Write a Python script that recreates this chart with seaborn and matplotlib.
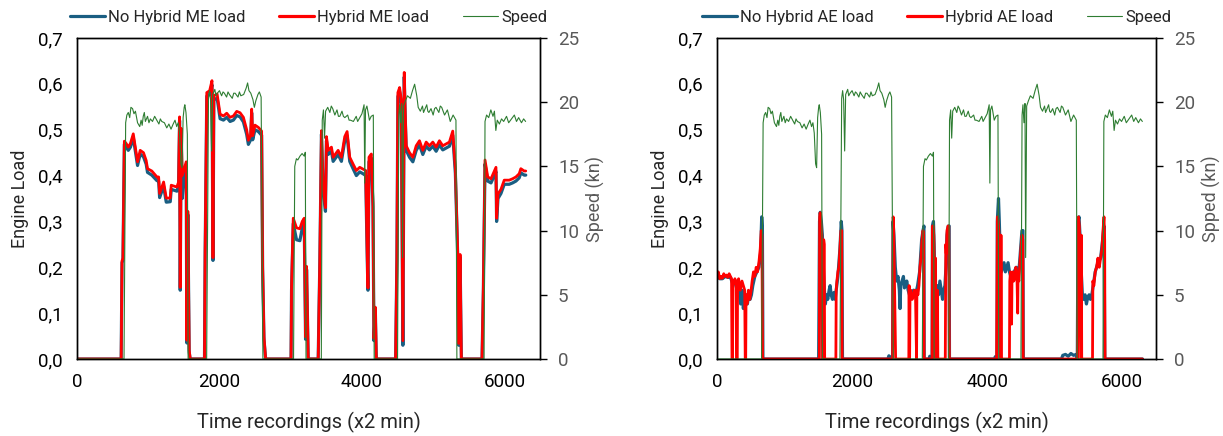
import matplotlib
matplotlib.use("Agg")
import matplotlib.pyplot as plt
from matplotlib.lines import Line2D
from matplotlib.ticker import FuncFormatter
import seaborn as sns
import numpy as np

# ---------------- DATA ----------------
# Ship speed (kn), shared by both panels
speed_t = [0, 660, 683, 700, 720, 740, 757, 780, 800, 820, 850, 881, 900, 915, 930, 945, 960, 990, 1010, 1030,
           1060, 1090, 1120, 1150, 1170, 1190, 1227, 1260, 1290, 1320, 1350, 1376, 1400, 1420, 1440, 1460,
           1475, 1490, 1505, 1514, 1530, 1549, 1560,
           1820, 1846, 1860, 1875, 1890, 1905, 1935, 1950, 1970, 2000, 2030, 2050, 2069, 2100, 2120, 2140,
           2180, 2200, 2220, 2260, 2280, 2300, 2340, 2375, 2395, 2414, 2440, 2470, 2490, 2510, 2540, 2560,
           2585, 2610,
           3040, 3057, 3080, 3100, 3130, 3160, 3190, 3205, 3215,
           3430, 3443, 3460, 3475, 3490, 3520, 3550, 3570, 3590, 3620, 3650, 3670, 3690, 3720, 3740, 3760,
           3800, 3820, 3840, 3880, 3920, 3940, 3960, 4000, 4030, 4040, 4050, 4070, 4090, 4105, 4130, 4160,
           4172,
           4500, 4517, 4530, 4545, 4560, 4570, 4585, 4610, 4640, 4680, 4710, 4740, 4770, 4790, 4820, 4850,
           4865, 4880, 4910, 4925, 4940, 4970, 5000, 5020, 5040, 5080, 5100, 5120, 5160, 5200, 5240, 5280,
           5320, 5333,
           5715, 5728, 5750, 5780, 5810, 5840, 5860, 5880, 5900, 5930, 5960, 5990, 6030, 6060, 6100, 6140,
           6170, 6200, 6240, 6270, 6298]
speed_v = [0, 0, 18.4, 19.0, 19.2, 18.8, 19.6, 19.5, 19.1, 19.3, 18.4, 18.1, 18.6, 18.2, 18.9, 19.2, 18.5, 18.9, 18.4, 18.7,
           18.5, 18.9, 18.6, 18.3, 18.7, 18.5, 18.4, 18.0, 18.3, 17.9, 18.3, 18.6, 18.1, 18.4, 17.6, 15.2,
           14.9, 18.8, 19.6, 19.8, 19.2, 17.5, 0,
           0, 20.3, 20.9, 20.2, 16.2, 20.6, 21.0, 20.5, 20.7, 20.9, 20.5, 20.8, 20.7, 20.4, 20.8, 20.6,
           20.3, 20.7, 20.7, 20.4, 20.8, 20.5, 20.6, 21.1, 21.5, 20.9, 20.7, 20.2, 19.6, 20.1, 20.6, 20.8,
           20.4, 0,
           0, 15.0, 15.6, 15.5, 15.8, 16.0, 15.8, 16.1, 0,
           0, 18.6, 19.4, 17.2, 19.3, 19.6, 19.2, 19.7, 19.5, 19.0, 19.4, 18.9, 18.9, 19.3, 18.9, 18.8,
           19.0, 18.6, 18.6, 18.5, 18.9, 18.5, 18.7, 19.1, 19.8, 13.7, 19.4, 19.7, 19.1, 18.6, 18.9, 19.0,
           0,
           0, 19.0, 19.8, 18.4, 19.9, 7.9, 19.7, 20.1, 20.5, 20.3, 20.9, 21.4, 20.5, 19.6, 19.3, 19.7,
           19.2, 19.4, 19.8, 19.3, 19.2, 19.5, 19.0, 19.5, 19.6, 19.2, 19.7, 19.6, 19.0, 19.4, 18.5, 19.0,
           18.6, 0,
           0, 18.5, 19.0, 18.8, 19.4, 18.9, 19.3, 17.8, 18.6, 18.3, 18.7, 18.5, 18.9, 18.4, 18.7, 19.0,
           18.5, 18.8, 18.4, 18.7, 18.5]

# Main engine load, hybrid (red)
me_hyb_t = [0, 620, 632, 645, 665, 690, 720, 750, 790, 820, 850, 887, 933, 971, 990, 1050, 1122, 1146,
            1160, 1216, 1253, 1309, 1323, 1402, 1426, 1440, 1449, 1463, 1477, 1505, 1533, 1542, 1556,
            1575, 1589,
            1790, 1799, 1822, 1862, 1895, 1909, 1921, 1967, 2009, 2056, 2102, 2149, 2196, 2242, 2289,
            2336, 2382, 2406, 2438, 2452, 2466, 2499, 2546, 2592, 2606, 2625, 2648,
            3005, 3012, 3036, 3082, 3129, 3162, 3190, 3209, 3223, 3246,
            3386, 3409, 3432, 3455, 3488, 3502, 3526, 3572, 3596, 3666, 3712, 3759, 3792, 3829, 3876,
            3922, 3969, 4016, 4053, 4076, 4085, 4099, 4132, 4155, 4169, 4188, 4202,
            4473, 4491, 4505, 4529, 4552, 4575, 4594, 4608, 4622, 4668, 4715, 4762, 4808, 4855, 4902,
            4948, 4995, 5042, 5088, 5135, 5182, 5228, 5275, 5312, 5345, 5359, 5378, 5396,
            5686, 5705, 5728, 5766, 5812, 5859, 5882, 5891, 5910, 5952, 5998, 6068, 6115, 6162, 6208,
            6231, 6278, 6300]
me_hyb_v = [0, 0, 0.214, 0.22, 0.475, 0.47, 0.462, 0.47, 0.491, 0.46, 0.43, 0.455, 0.45, 0.433, 0.415, 0.41, 0.397, 0.397,
            0.361, 0.386, 0.351, 0.351, 0.379, 0.375, 0.386, 0.528, 0.156, 0.503, 0.40, 0.415, 0.43, 0.041, 0.322,
            0.02, 0,
            0, 0.235, 0.581, 0.585, 0.607, 0.221, 0.574, 0.578, 0.534, 0.53, 0.536, 0.527, 0.53, 0.54, 0.537,
            0.527, 0.50, 0.477, 0.487, 0.545, 0.487, 0.51, 0.505, 0.497, 0.20, 0.048, 0,
            0, 0.156, 0.307, 0.286, 0.284, 0.30, 0.307, 0.048, 0.202, 0,
            0, 0.214, 0.498, 0.38, 0.33, 0.485, 0.455, 0.462, 0.44, 0.455, 0.44, 0.485, 0.496, 0.44, 0.425,
            0.411, 0.418, 0.414, 0.411, 0.214, 0.155, 0.44, 0.447, 0.34, 0.045, 0.113, 0,
            0, 0.221, 0.581, 0.592, 0.566, 0.04, 0.625, 0.536, 0.465, 0.45, 0.44, 0.465, 0.476, 0.455, 0.473,
            0.465, 0.473, 0.462, 0.476, 0.465, 0.469, 0.473, 0.497, 0.415, 0.228, 0.034, 0.228, 0,
            0, 0.156, 0.434, 0.397, 0.393, 0.41, 0.418, 0.307, 0.36, 0.37, 0.39, 0.39, 0.393, 0.397, 0.404,
            0.415, 0.41, 0.41]

# Main engine load, no hybrid (blue)
me_nohyb_t = me_hyb_t
me_nohyb_v = [0, 0, 0.21, 0.215, 0.468, 0.462, 0.455, 0.462, 0.483, 0.452, 0.422, 0.447, 0.441, 0.425, 0.407, 0.401, 0.389, 0.388,
              0.352, 0.377, 0.342, 0.343, 0.37, 0.366, 0.378, 0.52, 0.15, 0.495, 0.35, 0.405, 0.42, 0.035, 0.315,
              0.015, 0,
              0, 0.23, 0.573, 0.577, 0.598, 0.215, 0.565, 0.569, 0.524, 0.521, 0.527, 0.518, 0.521, 0.531, 0.528,
              0.517, 0.49, 0.468, 0.478, 0.537, 0.478, 0.50, 0.496, 0.488, 0.195, 0.043, 0,
              0, 0.15, 0.295, 0.26, 0.258, 0.285, 0.298, 0.043, 0.195, 0,
              0, 0.21, 0.49, 0.37, 0.322, 0.476, 0.446, 0.453, 0.431, 0.446, 0.431, 0.476, 0.487, 0.431, 0.415,
              0.40, 0.408, 0.404, 0.40, 0.208, 0.15, 0.43, 0.438, 0.332, 0.04, 0.108, 0,
              0, 0.215, 0.572, 0.583, 0.557, 0.03, 0.615, 0.527, 0.455, 0.44, 0.43, 0.455, 0.467, 0.446, 0.464,
              0.456, 0.464, 0.453, 0.467, 0.456, 0.46, 0.464, 0.488, 0.405, 0.222, 0.03, 0.222, 0,
              0, 0.15, 0.425, 0.388, 0.384, 0.40, 0.409, 0.30, 0.35, 0.361, 0.381, 0.381, 0.384, 0.388, 0.395,
              0.406, 0.401, 0.401]

# Auxiliary engine load, hybrid (red)
ae_hyb_t = [0, 20, 40, 60, 80, 100, 120, 140, 160, 180, 200, 215, 222, 228, 232, 250, 265, 280, 290, 300,
            305, 320, 345, 370, 390, 410, 418, 425, 430, 445, 465, 485, 505, 520, 540, 560, 580, 600, 620,
            640, 655, 665, 675,
            1505, 1515, 1520, 1528, 1540, 1552, 1558, 1562, 1575, 1580, 1588, 1594, 1760, 1765, 1775,
            1790, 1805, 1820, 1835, 1846, 1852,
            2600, 2608, 2615, 2625, 2635, 2645, 2840, 2845, 2852, 2858, 2870, 2890, 2910, 2925, 2940,
            2955, 2960, 2975, 2990, 3005, 3020, 3035, 3050, 3060, 3066,
            3185, 3190, 3200, 3210, 3218, 3222, 3232, 3236, 3242, 3260, 3264, 3270, 3380, 3388, 3395,
            3405, 3420, 3432, 3440,
            4140, 4152, 4165, 4180, 4190, 4195, 4200, 4205, 4212, 4330, 4335, 4345, 4355, 4362, 4368,
            4380, 4395, 4410, 4425, 4440, 4452, 4458, 4470, 4485, 4500, 4515, 4528, 4533,
            5340, 5352, 5365, 5375, 5385, 5390, 5395, 5400, 5560, 5565, 5580, 5600, 5620, 5640, 5660,
            5680, 5700, 5715, 5730, 5740, 5745, 6300]
ae_hyb_v = [0.185, 0.19, 0.175, 0.18, 0.176, 0.186, 0.18, 0.183, 0.178, 0.186, 0.18, 0.175, 0.0, 0.0, 0.17, 0.165, 0.175, 0.16, 0.0, 0.0,
            0.17, 0.175, 0.15, 0.17, 0.16, 0.15, 0.0, 0.0, 0.14, 0.12, 0.15, 0.13, 0.15, 0.17, 0.19, 0.18, 0.2, 0.19, 0.21,
            0.24, 0.28, 0.27, 0,
            0, 0, 0.31, 0.319, 0.29, 0.27, 0.10, 0, 0, 0.26, 0.25, 0, 0, 0.15, 0.17,
            0.19, 0.20, 0.24, 0.28, 0.28, 0,
            0, 0.31, 0.29, 0.20, 0.10, 0, 0, 0.16, 0, 0.14, 0.15, 0.13, 0.14, 0.15, 0.13,
            0, 0.15, 0.14, 0.16, 0.20, 0.22, 0.26, 0.28, 0.27, 0,
            0, 0.29, 0.29, 0.27, 0.20, 0, 0, 0.22, 0, 0, 0.15, 0, 0, 0.25, 0.23,
            0.28, 0.29, 0.29, 0,
            0, 0.31, 0.30, 0.26, 0.20, 0, 0, 0.27, 0, 0, 0.17, 0.19, 0.18, 0.076, 0.18,
            0.19, 0.17, 0.18, 0.20, 0.19, 0.10, 0.18, 0.17, 0.21, 0.24, 0.27, 0.26, 0,
            0, 0.31, 0.29, 0.22, 0.10, 0, 0.27, 0, 0, 0.17, 0.16, 0.19, 0.20, 0.22, 0.20,
            0.22, 0.24, 0.28, 0.31, 0.26, 0, 0]

# Auxiliary engine load, no hybrid (blue)
ae_nohyb_t = [0, 40, 80, 120, 160, 200, 230, 260, 290, 310, 330, 350, 370, 390, 410, 430, 450, 470, 490,
              510, 530, 560, 590, 620, 645, 662, 672, 680,
              1505, 1518, 1528, 1545, 1560, 1575, 1590, 1605, 1620, 1640, 1660, 1675, 1690, 1710, 1730,
              1750, 1765, 1790, 1820, 1840, 1850, 1858,
              2530, 2545, 2560, 2575, 2600, 2606, 2620, 2640, 2660, 2680, 2700, 2710, 2720, 2740, 2760,
              2775, 2790, 2810, 2830, 2850, 2880, 2910, 2940, 2970, 3000, 3030, 3050, 3064, 3068,
              3140, 3150, 3165, 3175, 3185, 3190, 3205, 3215, 3225, 3240, 3260, 3280, 3300, 3320, 3340,
              3355, 3375, 3390, 3405, 3425, 3438, 3442,
              4110, 4120, 4135, 4145, 4150, 4168, 4180, 4195, 4210, 4230, 4250, 4270, 4290, 4310, 4330,
              4350, 4380, 4400, 4430, 4460, 4480, 4500, 4515, 4530, 4535,
              5100, 5120, 5160, 5200, 5240, 5280, 5320, 5335, 5345, 5360, 5375, 5390, 5410, 5430, 5450,
              5470, 5490, 5510, 5530, 5550, 5570, 5600, 5640, 5680, 5710, 5730, 5742, 6300]
ae_nohyb_v = [0.18, 0.175, 0.175, 0.18, 0.178, 0.178, 0.165, 0.17, 0.155, 0.16, 0.14, 0.12, 0.15, 0.11, 0.13, 0.14, 0.12, 0.14, 0.13,
              0.14, 0.16, 0.18, 0.19, 0.20, 0.23, 0.31, 0.29, 0,
              0, 0.30, 0.32, 0.30, 0.27, 0.20, 0.15, 0.12, 0.14, 0.13, 0.15, 0.16, 0.14, 0.13, 0.145,
              0.13, 0.15, 0.18, 0.24, 0.30, 0.28, 0,
              0, 0.007, 0.005, 0, 0, 0.30, 0.27, 0.20, 0.17, 0.18, 0.15, 0.11, 0.16, 0.17, 0.18,
              0.155, 0.16, 0.17, 0.15, 0.14, 0.14, 0.15, 0.14, 0.16, 0.19, 0.26, 0.28, 0.29, 0,
              0, 0.006, 0.004, 0, 0, 0.29, 0.30, 0.25, 0.17, 0.15, 0.16, 0.14, 0.17, 0.15, 0.13,
              0.15, 0.16, 0.20, 0.27, 0.29, 0.29, 0,
              0, 0.005, 0.004, 0, 0.30, 0.35, 0.30, 0.22, 0.19, 0.20, 0.21, 0.19, 0.20, 0.21, 0.19,
              0.18, 0.17, 0.19, 0.20, 0.18, 0.21, 0.25, 0.28, 0.28, 0,
              0, 0.008, 0.01, 0.006, 0.012, 0.008, 0.01, 0, 0.30, 0.31, 0.27, 0.20, 0.14, 0.13, 0.14,
              0.12, 0.135, 0.14, 0.13, 0.14, 0.16, 0.19, 0.21, 0.22, 0.26, 0.29, 0, 0]

panel_titles = [("No Hybrid ME load", "Hybrid ME load", "Speed", "Speed (kn)"),
                ("No Hybrid AE load", "Hybrid AE load", "Speed", "Spped (kn)")]
x_label = "Time recordings (x2 min)"
y_label = "Engine Load"
load_ticks = [0.0, 0.1, 0.2, 0.3, 0.4, 0.5, 0.6, 0.7]
speed_ticks = [0, 5, 10, 15, 20, 25]
time_ticks = [0, 2000, 4000, 6000]

# ---------------- STYLE ----------------
sns.set_theme(style="white")
plt.rcParams['font.family'] = ['Roboto', 'DejaVu Sans']

BLUE = "#1a5e82"
RED = "#ff0000"
GREEN = "#2e7d32"
GRAY = "#595959"

fig = plt.figure(figsize=(12.23, 4.36), dpi=100)
W, H = 1223, 436
axes_px = [(77, 540), (717, 1156)]
top_px, bot_px = 38, 359

series = [((me_nohyb_t, me_nohyb_v), (me_hyb_t, me_hyb_v)),
          ((ae_nohyb_t, ae_nohyb_v), (ae_hyb_t, ae_hyb_v))]

for i, ((x0, x1), ((bt, bv), (rt, rv))) in enumerate(zip(axes_px, series)):
    ax = fig.add_axes([x0 / W, 1 - bot_px / H, (x1 - x0) / W, (bot_px - top_px) / H])
    ax2 = ax.twinx()
    sns.lineplot(x=bt, y=bv, ax=ax, color=BLUE, linewidth=2.3, estimator=None, sort=False)
    sns.lineplot(x=rt, y=rv, ax=ax, color=RED, linewidth=2.0, estimator=None, sort=False)
    sns.lineplot(x=speed_t, y=speed_v, ax=ax2, color=GREEN, linewidth=0.8, estimator=None, sort=False)

    ax.set_xlim(0, 6500)
    ax.set_ylim(0, 0.7)
    ax2.set_ylim(0, 25)
    ax.set_xticks(time_ticks)
    ax.set_yticks(load_ticks)
    ax2.set_yticks(speed_ticks)
    ax.yaxis.set_major_formatter(FuncFormatter(lambda v, p: f"{v:.1f}".replace(".", ",")))
    ax.tick_params(axis='both', length=0, labelsize=13.5, colors="black", pad=10)
    ax2.tick_params(axis='y', length=5, width=1, direction='out', labelsize=13.5,
                    colors="black", labelcolor=GRAY, pad=8)
    for a in (ax, ax2):
        for s in a.spines.values():
            s.set_color("black")
            s.set_linewidth(1.0)
    ax.set_xlabel(x_label, fontsize=14.5, labelpad=15)
    ax.set_ylabel(y_label, fontsize=13, labelpad=7)
    ax2.set_ylabel(panel_titles[i][3], fontsize=13, color=GRAY, labelpad=5)

    handles = [Line2D([], [], color=BLUE, lw=2.3),
               Line2D([], [], color=RED, lw=2.3),
               Line2D([], [], color=GREEN, lw=0.8)]
    ax2.legend(handles, panel_titles[i][:3], loc="center", bbox_to_anchor=(0.5, 1.065),
               ncol=3, frameon=False, fontsize=12, handlelength=2.1, handletextpad=0.2,
               columnspacing=2.0)

fig.savefig("out.png", dpi=100)
